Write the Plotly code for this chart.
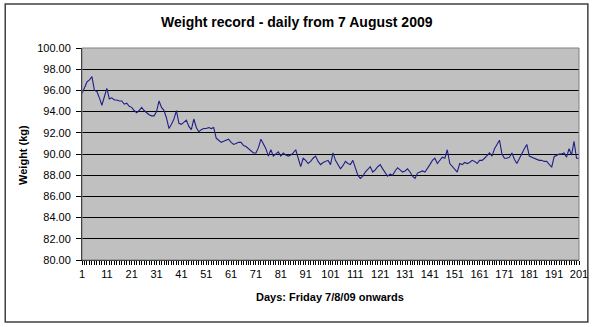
import plotly.graph_objects as go

# Daily weight readings (kg), one per day starting Friday 7/8/09
days = list(range(1, 202))
weight_kg = [
    95.7, 96.3, 96.8, 97.0, 97.3, 96.0, 95.9, 95.3, 94.6, 95.4,
    96.2, 95.2, 95.3, 95.1, 95.1, 95.0, 95.0, 94.7, 94.8, 94.5,
    94.4, 94.1, 93.9, 94.1, 94.4, 94.1, 93.9, 93.7, 93.6, 93.6,
    94.0, 95.0, 94.4, 94.1, 93.4, 92.4, 92.8, 93.3, 94.1, 92.9,
    92.8, 93.0, 93.2, 92.6, 92.3, 93.3, 92.5, 92.1, 92.3, 92.4,
    92.4, 92.5, 92.4, 92.5, 91.5, 91.3, 91.1, 91.2, 91.3, 91.4,
    91.1, 90.9, 91.0, 91.1, 91.1, 90.8, 90.7, 90.5, 90.3, 90.1,
    90.1, 90.6, 91.4, 90.9, 90.5, 89.8, 90.4, 89.8, 90.0, 90.2,
    89.8, 90.1, 89.9, 89.8, 89.9, 90.1, 90.4, 89.6, 88.8, 89.6,
    89.4, 89.1, 89.3, 89.6, 89.8, 89.3, 89.0, 89.2, 89.3, 89.4,
    89.0, 90.1, 89.4, 89.0, 88.6, 88.9, 89.3, 89.1, 89.0, 89.4,
    88.6, 88.0, 87.7, 87.9, 88.3, 88.6, 88.8, 88.3, 88.5, 88.8,
    89.0, 88.6, 88.2, 87.9, 88.1, 88.0, 88.4, 88.7, 88.5, 88.3,
    88.4, 88.6, 88.3, 87.9, 87.7, 88.2, 88.3, 88.4, 88.3, 88.6,
    89.0, 89.4, 89.6, 89.1, 89.4, 89.7, 89.6, 90.4, 89.1, 88.8,
    88.5, 88.3, 89.1, 89.0, 89.2, 89.1, 89.2, 89.4, 89.3, 89.1,
    89.4, 89.4, 89.6, 89.9, 90.1, 89.8, 90.5, 90.9, 91.3, 90.0,
    89.6, 89.6, 89.7, 90.1, 89.5, 89.1, 89.6, 90.1, 90.5, 90.9,
    89.8, 89.7, 89.6, 89.5, 89.4, 89.4, 89.3, 89.3, 89.0, 88.75,
    89.75, 89.9, 90.0, 90.0, 90.1, 89.7, 90.5, 89.9, 91.2, 89.6,
    89.6,
]
x_tick_days = list(range(1, 202, 10))
y_ticks = list(range(80, 101, 2))

W, H = 600, 327
L, R, T, B = 82, 587, 48, 260  # plot-area edges in pixels
FONT = "Arial, Liberation Sans, sans-serif"


def px_x(p):
    return (p - L) / (R - L)


def px_y(p):
    return (B - p) / (B - T)


fig = go.Figure()
fig.add_trace(go.Scatter(
    x=days, y=weight_kg, mode="lines",
    line=dict(color="#1f1f88", width=1.1),
    hoverinfo="x+y",
))

fig.update_layout(
    width=W, height=H,
    margin=dict(l=L, r=W - R, t=T, b=H - B),
    paper_bgcolor="white",
    plot_bgcolor="#c0c0c0",
    showlegend=False,
    font=dict(family=FONT, size=11, color="black"),
    xaxis=dict(
        range=[1, 201],
        tickmode="array", tickvals=x_tick_days,
        ticktext=[str(d) for d in x_tick_days],
        ticks="outside", ticklen=4, tickcolor="black", tickwidth=1,
        minor=dict(dtick=1, tick0=1, ticks="outside", ticklen=4,
                   tickcolor="black", tickwidth=1, showgrid=False),
        showgrid=False, zeroline=False,
        showline=True, linecolor="black", linewidth=1,
        tickfont=dict(family=FONT, size=11, color="black"),
        fixedrange=True,
    ),
    yaxis=dict(
        range=[80, 100],
        tickmode="array", tickvals=y_ticks,
        ticktext=[f"{v:.2f}" for v in y_ticks],
        ticks="outside", ticklen=5, tickcolor="black", tickwidth=1,
        ticklabelstandoff=3,
        showgrid=True, gridcolor="black", gridwidth=1,
        zeroline=False,
        showline=True, linecolor="black", linewidth=1,
        tickfont=dict(family=FONT, size=11, color="black"),
        fixedrange=True,
    ),
    shapes=[
        # outer chart frame
        dict(type="rect", xref="paper", yref="paper",
             x0=px_x(4), x1=px_x(596), y0=px_y(322), y1=px_y(4),
             line=dict(color="#404040", width=1.5), fillcolor="rgba(0,0,0,0)",
             layer="below"),
        # plot-area border
        dict(type="rect", xref="paper", yref="paper",
             x0=0, x1=1, y0=0, y1=1,
             line=dict(color="#808080", width=1), fillcolor="rgba(0,0,0,0)"),
    ],
    annotations=[
        dict(text="<b>Weight record - daily from 7 August 2009</b>",
             xref="paper", yref="paper", x=px_x(300), y=px_y(22),
             xanchor="center", yanchor="middle", showarrow=False,
             font=dict(family=FONT, size=14, color="black")),
        dict(text="<b>Weight (kg)</b>",
             xref="paper", yref="paper", x=px_x(22), y=px_y(155),
             xanchor="center", yanchor="middle", showarrow=False,
             textangle=-90,
             font=dict(family=FONT, size=11, color="black")),
        dict(text="<b>Days: Friday 7/8/09 onwards</b>",
             xref="paper", yref="paper", x=px_x(334), y=px_y(297),
             xanchor="center", yanchor="middle", showarrow=False,
             font=dict(family=FONT, size=11, color="black")),
    ],
)

fig.write_html("out.html", config={"displayModeBar": False})
